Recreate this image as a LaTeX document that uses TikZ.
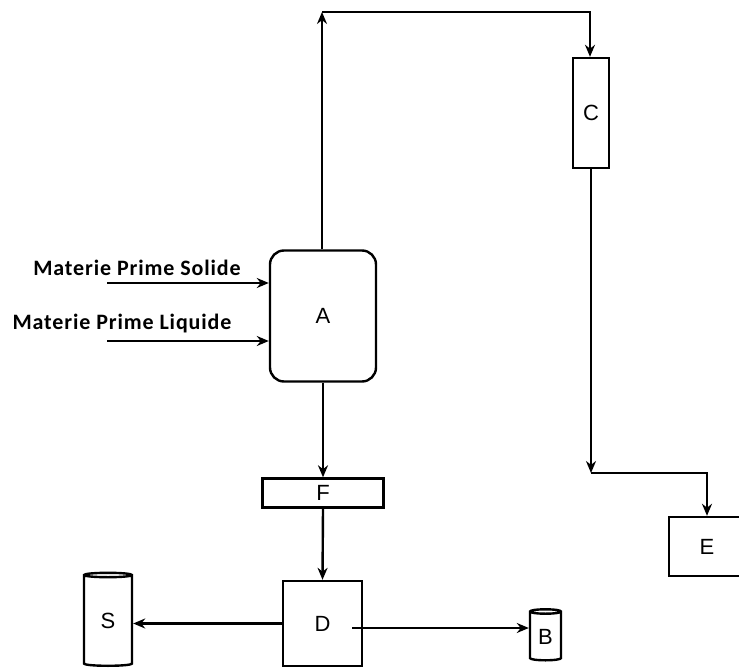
\documentclass[tikz,border=0pt]{standalone}
\usepackage{fontspec}
\setmainfont{Liberation Sans}
\newfontfamily\labelfont[LetterSpace=4]{Carlito}
\usetikzlibrary{arrows.meta,shapes.geometric}
\begin{document}
\begin{tikzpicture}[x=1pt,y=-1pt,
  line width=2.4pt,
  tip/.style={-{Stealth[length=12pt,width=10pt]}},
  box/.style={draw,rectangle,inner sep=0pt,font=\fontsize{22}{24}\selectfont},
  drum/.style={draw,cylinder,shape border rotate=90,aspect=0.3,inner sep=0pt,font=\fontsize{22}{24}\selectfont},
  lbl/.style={inner sep=0pt,font=\labelfont\bfseries\fontsize{22}{24}\selectfont}]
\useasboundingbox (0,0) rectangle (739,671);
\clip (0,0) rectangle (739,671);
% nodes
\node[box,rounded corners=14pt,minimum width=106pt,minimum height=131pt] (A) at (323,316) {A};
\node[box,minimum width=36pt,minimum height=110pt] (C) at (591,113) {C};
\node[box,minimum width=121pt,minimum height=29pt] (F) at (323,493) {F};
\node[box,minimum width=79pt,minimum height=85pt] (D) at (322.5,623.5) {D};
\node[box,minimum width=76pt,minimum height=59pt] (E) at (707,546.5) {E};
\node[drum,minimum width=48pt,minimum height=93pt] (S) at (108,621) {S};
\node[drum,minimum width=31pt,minimum height=51pt] (B) at (545.5,636.5) {B};
\node[lbl] (ls) at (137,268) {Materie Prime Solide};
\node[lbl] (ll) at (122,324) {Materie Prime Liquide};
% coordinates
\coordinate (tl) at (322,12);
\coordinate (tr) at (590,12);
\coordinate (cb) at (591,473);
\coordinate (er) at (707,473);
\coordinate (s1) at (107,283);
\coordinate (l1) at (107,341);
\coordinate (db) at (352,628);
% connectors
\draw[tip] (A.north -| tl) -- (tl);
\draw[tip] (tl) -- (tr) -- (C.north -| tr);
\draw[tip] (C.south) -- (cb);
\draw[tip] (cb) -- (er) -- (E.north);
\draw[tip] (s1) -- (s1 -| A.west);
\draw[tip] (l1) -- (l1 -| A.west);
\draw[tip] (A.south) -- (F.north);
\draw[tip] (F.south) -- (D.north);
\draw[tip] (D.west) -- (D.west -| S.east);
\draw[tip] (db) -- (db -| B.west);
\end{tikzpicture}
\end{document}
